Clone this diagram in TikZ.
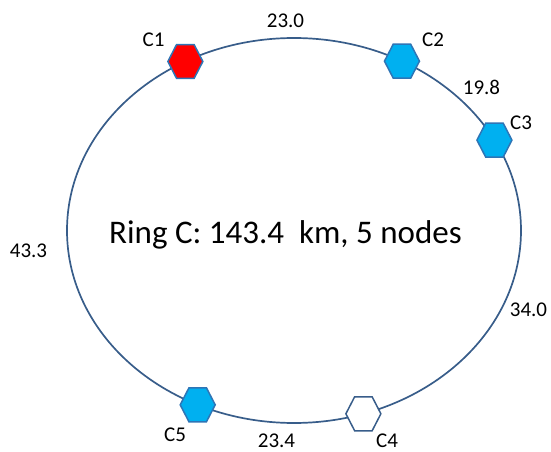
\documentclass[tikz,border=0pt]{standalone}
\usepackage{fontspec}
\setmainfont{Carlito}
\usepackage{tikz}
\usetikzlibrary{shapes.geometric}
\definecolor{ringblue}{RGB}{56,93,138}
\definecolor{hexedge}{RGB}{46,117,182}
\definecolor{hexfill}{RGB}{0,176,240}
\tikzset{
  hexnode/.style={regular polygon,regular polygon sides=6,minimum size=35pt,
    inner sep=0pt,line width=1.5pt,draw=hexedge,fill=hexfill,
    yscale=1.12,transform shape},
  lab/.style={anchor=base,font=\fontsize{21}{24}\selectfont,inner sep=0pt},
}

\begin{document}
\begin{tikzpicture}[x=1pt,y=1pt]
\useasboundingbox (0,0) rectangle (551,452);
% ring
\coordinate (ctr) at (294,221.5);
\draw[ringblue,line width=1.7pt] (ctr) ellipse [x radius=227pt,y radius=192.5pt];
% sites on the ring
\node[hexnode,fill=red] (c1) at ([shift={(118.6:227pt and 192.5pt)}]ctr) {};
\node[hexnode] (c2) at ([shift={(61.6:227pt and 192.5pt)}]ctr) {};
\node[hexnode] (c3) at ([shift={(28:227pt and 192.5pt)}]ctr) {};
\node[hexnode,fill=white,draw=ringblue] (c4) at ([shift={(-72.2:227pt and 192.5pt)}]ctr) {};
\node[hexnode] (c5) at ([shift={(-115.1:227pt and 192.5pt)}]ctr) {};
\node[lab] (c1lab) at (153.6,405.3) {C1};
\node[lab] (c2lab) at (433,405) {C2};
\node[lab] (c3lab) at (521,322) {C3};
\node[lab] (c4lab) at (387,4) {C4};
\node[lab] (c5lab) at (175,10.3) {C5};
% span lengths
\node[lab] (d12) at (285.5,424) {23.0};
\node[lab] (d23) at (481.5,357) {19.8};
\node[lab] (d34) at (528.5,135) {34.0};
\node[lab] (d45) at (276.5,4.5) {23.4};
\node[lab] (d51) at (28.5,194.3) {43.3};
\node[anchor=base,font=\fontsize{33}{38}\selectfont,inner sep=0pt] (title)
  at (285.5,208) {Ring C: 143.4~~km, 5 nodes};
\end{tikzpicture}
\end{document}
